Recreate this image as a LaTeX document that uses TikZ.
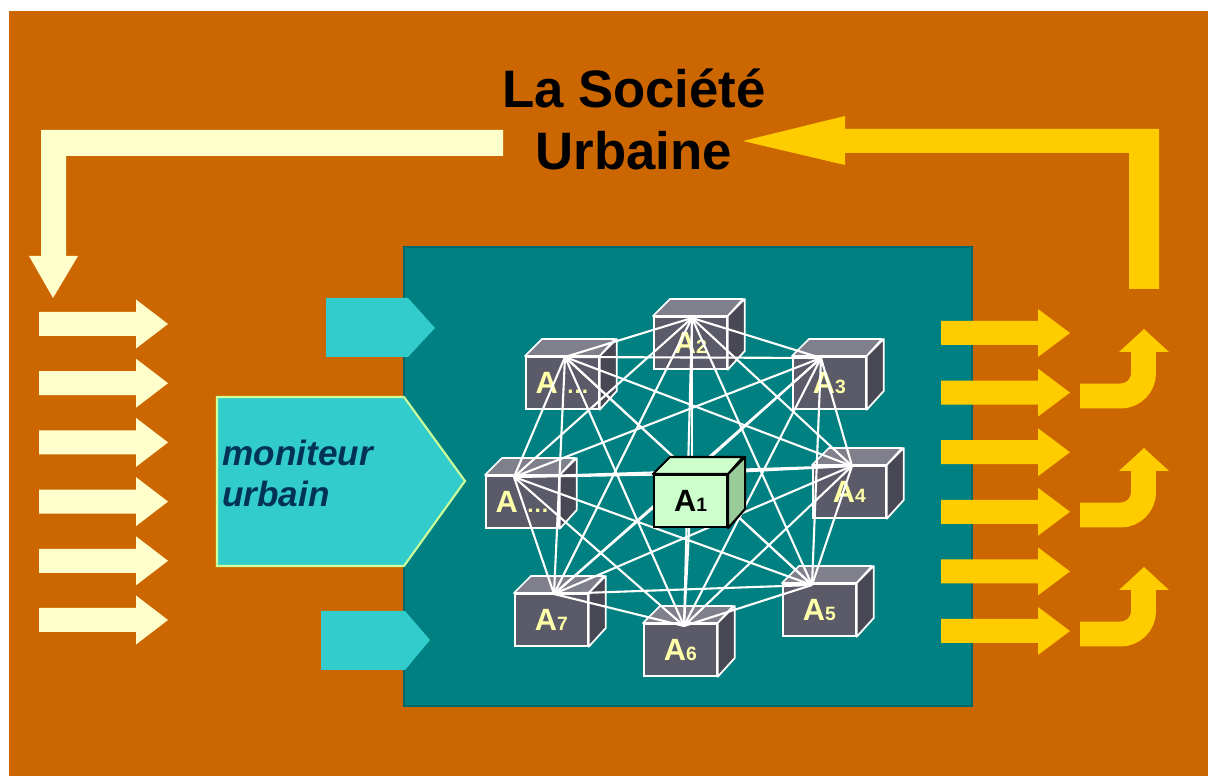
\documentclass[tikz,border=0pt]{standalone}
\usepackage{fontspec}
\setmainfont{Liberation Sans}
\definecolor{bgorange}{HTML}{CC6600}
\definecolor{cream}{HTML}{FFFFCC}
\definecolor{gold}{HTML}{FFCC00}
\definecolor{teal0}{HTML}{008080}
\definecolor{tealdark}{HTML}{006868}
\definecolor{cyanbox}{HTML}{33CCCC}
\definecolor{cyanedge}{HTML}{CCFF99}
\definecolor{navy}{HTML}{003355}
\definecolor{cfront}{RGB}{90,90,104}
\definecolor{ctopc}{RGB}{128,128,140}
\definecolor{csidec}{RGB}{72,72,84}
\definecolor{labelyellow}{HTML}{FFFFAA}
\definecolor{gfront}{HTML}{CCFFCC}
\definecolor{gside}{HTML}{99CC99}
\tikzset{
  ofront/.style={draw=white, fill=cfront, line width=1pt, minimum width=1.46cm, minimum height=1.04cm, inner sep=0pt, text=labelyellow, font=\bfseries\fontsize{17.5}{20}\selectfont},
  ctop/.style={draw=white, fill=ctopc, line width=1pt, line join=round},
  cside/.style={draw=white, fill=csidec, line width=1pt, line join=round},
  gfrontst/.style={draw=black, fill=gfront, line width=1.2pt, minimum width=1.46cm, minimum height=1.04cm, inner sep=0pt, text=black, font=\bfseries\fontsize{17.5}{20}\selectfont},
  gtop/.style={draw=black, fill=gfront, line width=1.2pt, line join=round},
  gsidest/.style={draw=black, fill=gside, line width=1.2pt, line join=round},
  link/.style={draw=white, line width=1.2pt},
  title/.style={font=\bfseries\fontsize{30}{35}\selectfont, text=black, inner sep=0pt},
  moni/.style={font=\bfseries\itshape\fontsize{20}{24}\selectfont, text=navy, inner sep=0pt},
  pent/.style={fill=cyanbox}
}
\newcommand\subsz[1]{{\fontsize{11}{11}\selectfont #1}}
\newcommand\dotsz{{\fontsize{13}{13}\selectfont …}}
\newcommand\ocube[4]{%
  \node[ofront, anchor=north west] (#1) at (#2,#3) {#4};
  \filldraw[ctop] (#1.north west) -- ++(17,-17) -- ++(73,0) -- (#1.north east) -- cycle;
  \filldraw[cside] (#1.north east) -- ++(17,-17) -- ++(0,52) -- (#1.south east) -- cycle;
}
\begin{document}
\begin{tikzpicture}[x=0.02cm,y=-0.02cm]
\useasboundingbox (0,0) rectangle (1208,776);
\fill[white] (0,0) rectangle (1208,776);
\fill[bgorange] (9,11) rectangle (1208,776);

% top-left cream arrow
\fill[cream] (503,130) -- (41,130) -- (41,256) -- (29,256) -- (53,298) -- (78,256) -- (66,256) -- (66,156) -- (503,156) -- cycle;
% top-right gold arrow
\fill[gold] (1159,129) -- (1159,289) -- (1129,289) -- (1129,153) -- (845,153) -- (845,165) -- (743,141) -- (845,116) -- (845,129) -- cycle;

% title
\node[title, anchor=base] (t1) at (634,108) {La Société};
\node[title, anchor=base] (t2) at (634,170) {Urbaine};

% left cream arrows
\foreach \c in {324,383.2,442.4,501.6,560.8,620}{
  \fill[cream] (39,\c-12) -- (136,\c-12) -- (136,\c-24.5) -- (168,\c) -- (136,\c+24.5) -- (136,\c+12) -- (39,\c+12) -- cycle;
}

% teal box
\filldraw[fill=teal0, draw=tealdark, line width=1.5pt] (404,247) rectangle (972,706);

% right gold arrows
\foreach \c in {333,392.6,452.2,511.8,571.4,631}{
  \fill[gold] (941,\c-12) -- (1038,\c-12) -- (1038,\c-24) -- (1070,\c) -- (1038,\c+24) -- (1038,\c+12) -- (941,\c+12) -- cycle;
}
% curved gold arrows
\foreach \s in {0,119,238}{
  \draw[gold, line width=14.2pt, rounded corners=13pt] (1080,396+\s) -- (1143.5,396+\s) -- (1143.5,350+\s);
  \fill[gold] (1119,352+\s) -- (1144,329+\s) -- (1169,352+\s) -- cycle;
}

% cyan pentagons
\fill[pent] (326,298) -- (408,298) -- (435,328) -- (408,357) -- (326,357) -- cycle;
\filldraw[pent, draw=cyanedge, line width=1.2pt] (217,397) -- (404,397) -- (465,481) -- (404,566) -- (217,566) -- cycle;
\fill[pent] (321,611) -- (405,611) -- (430,640) -- (405,670) -- (321,670) -- cycle;
\node[moni, anchor=base west] (m1) at (222,466) {moniteur};
\node[moni, anchor=base west] (m2) at (222,507) {urbain};

% outer cubes
\ocube{ad1}{525}{356}{A \dotsz}
\ocube{a2}{653}{316}{A\subsz{2}}
\ocube{a3}{792}{356}{A\subsz{3}}
\ocube{a4}{812}{465}{A\subsz{4}}
\ocube{a5}{782}{583}{A\subsz{5}}
\ocube{a6}{643}{623}{A\subsz{6}}
\ocube{a7}{514}{593}{A\subsz{7}}
\ocube{ad2}{485}{475}{A \dotsz}

% connection points
\coordinate (c0) at (692,474);
\coordinate (c1) at (565,357);
\coordinate (c2) at (692,318);
\coordinate (c3) at (821,358);
\coordinate (c4) at (852,466);
\coordinate (c5) at (812,585);
\coordinate (c6) at (684,626);
\coordinate (c7) at (554,594);
\coordinate (c8) at (514,477);

\foreach \i in {0,...,8}{
  \foreach \j in {0,...,8}{
    \ifnum\i<\j \draw[link] (c\i) -- (c\j); \fi
  }
}

% central cube A1
\node[gfrontst, anchor=north west] (a1) at (653,474) {A\subsz{1}};
\filldraw[gtop] (a1.north west) -- ++(17,-17) -- ++(73,0) -- (a1.north east) -- cycle;
\filldraw[gsidest] (a1.north east) -- ++(17,-17) -- ++(0,52) -- (a1.south east) -- cycle;
\end{tikzpicture}
\end{document}
